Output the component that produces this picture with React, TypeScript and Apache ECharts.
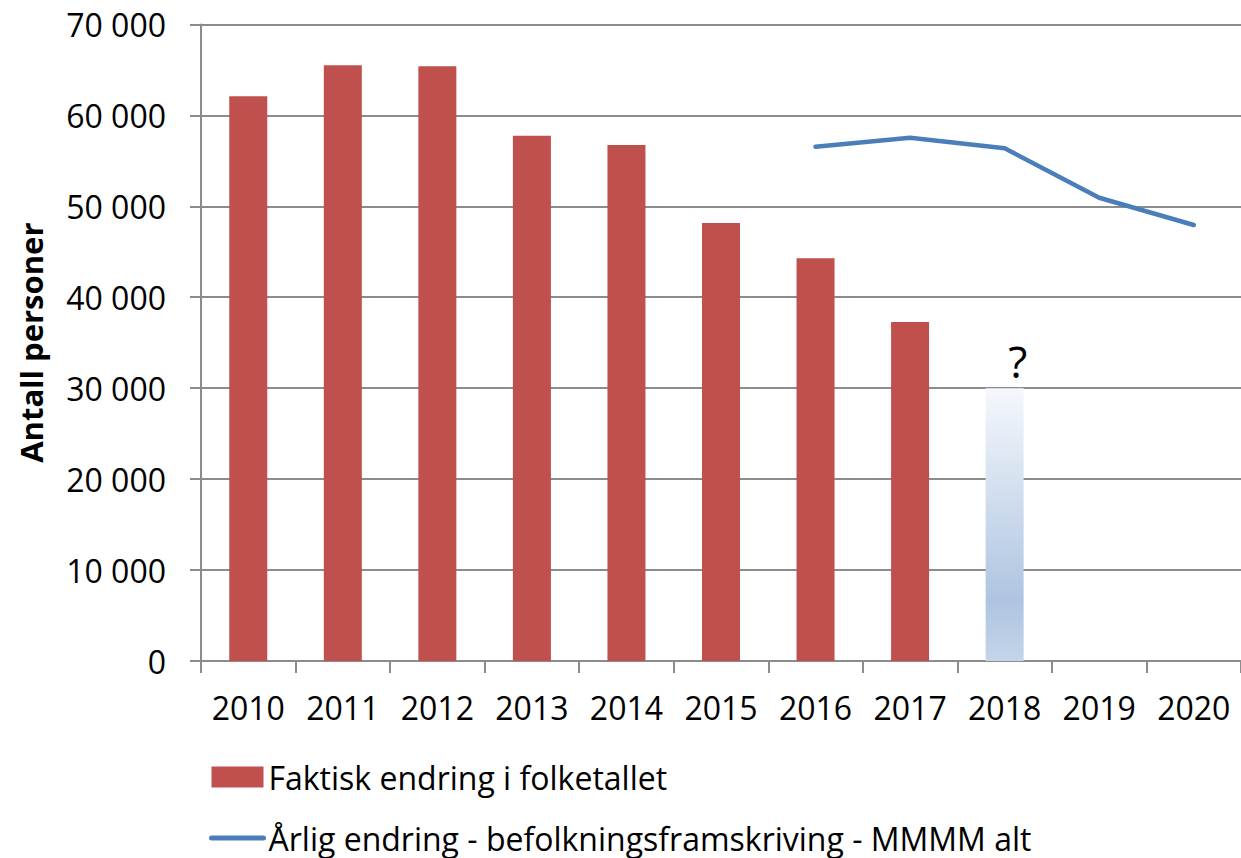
import React, { useEffect, useRef } from "react";
import * as echarts from "echarts";

const years = ["2010", "2011", "2012", "2013", "2014", "2015", "2016", "2017", "2018", "2019", "2020"];
const actualChange = [62100, 65500, 65400, 57760, 56730, 48160, 44280, 37270];
const uncertainYear = "2018";
const uncertainValue = 30000;
const uncertainLabel = "?";
const projection = [null, null, null, null, null, null, 56550, 57540, 56370, 50940, 47940];
const barName = "Faktisk endring i folketallet";
const lineName = "Årlig endring - befolkningsframskriving - MMMM alt";
const yAxisTitle = "Antall personer";

const FONT = "'Open Sans', 'Noto Sans', sans-serif";

export default function App() {
  const ref = useRef<HTMLDivElement>(null);
  useEffect(() => {
    if (!ref.current) return;
    const chart = echarts.init(ref.current, undefined, { renderer: "svg" });
    const barData: any[] = years.map((y, i) => {
      if (i < actualChange.length) return actualChange[i];
      if (y === uncertainYear)
        return {
          value: uncertainValue,
          itemStyle: {
            color: new echarts.graphic.LinearGradient(0, 0, 0, 1, [
              { offset: 0, color: "#f5f8fc" },
              { offset: 0.78, color: "#aec4e1" },
              { offset: 1, color: "#c4d5ea" },
            ]),
          },
          label: {
            show: true,
            position: "top",
            formatter: uncertainLabel,
            fontFamily: FONT,
            fontSize: 44,
            color: "#000",
            distance: 5,
            offset: [13, 0],
          },
        };
      return "-";
    });
    const gray = "#8c8c8c";
    chart.setOption({
      animation: false,
      backgroundColor: "#fff",
      textStyle: { fontFamily: FONT },
      grid: { left: 201, right: -7, top: 24.4, bottom: 197, containLabel: false },
      legend: {
        orient: "vertical",
        left: 209,
        top: 758,
        height: 100,
        padding: 0,
        itemGap: 23,
        itemWidth: 52,
        itemHeight: 21,
        textStyle: { fontFamily: FONT, fontSize: 32, color: "#000", lineHeight: 38 },
        data: [
          { name: barName, icon: "rect" },
          {
            name: lineName,
            lineStyle: { width: 5, cap: "round", color: "#4a7ebb" },
            itemStyle: { color: "rgba(0,0,0,0)", opacity: 0, borderWidth: 0 },
          },
        ],
      },
      xAxis: {
        type: "category",
        data: years,
        boundaryGap: true,
        axisLine: { show: true, lineStyle: { color: gray, width: 2 } },
        axisTick: { show: true, length: 12, interval: 0, lineStyle: { color: gray, width: 2 } },
        axisLabel: { fontFamily: FONT, fontSize: 32, color: "#000", margin: 30, interval: 0 },
        splitLine: { show: false },
      },
      yAxis: {
        type: "value",
        min: 0,
        max: 70000,
        interval: 10000,
        name: yAxisTitle,
        nameLocation: "middle",
        nameRotate: 90,
        nameGap: 155,
        nameTextStyle: { fontFamily: FONT, fontSize: 31, fontWeight: "bold", color: "#000" },
        axisLine: { show: true, lineStyle: { color: gray, width: 2 } },
        axisTick: { show: true, length: 11, lineStyle: { color: gray, width: 2 } },
        axisLabel: {
          fontFamily: FONT,
          fontSize: 32,
          color: "#000",
          margin: 35,
          formatter: (v: number) => (v === 0 ? "0" : `${v / 1000} 000`),
        },
        splitLine: { show: true, lineStyle: { color: gray, width: 2 } },
      },
      series: [
        {
          name: barName,
          type: "bar",
          data: barData,
          barWidth: 38,
          itemStyle: { color: "#c0504d" },
        },
        {
          name: lineName,
          type: "line",
          data: projection,
          symbol: "none",
          showSymbol: false,
          lineStyle: { color: "#4a7ebb", width: 4.5, cap: "round", join: "round" },
          itemStyle: { color: "#4a7ebb" },
        },
      ],
    });
    return () => chart.dispose();
  }, []);
  return (
    <div
      ref={ref}
      style={{ position: "absolute", left: 0, top: 0, width: 1241, height: 858, overflow: "hidden" }}
    />
  );
}
